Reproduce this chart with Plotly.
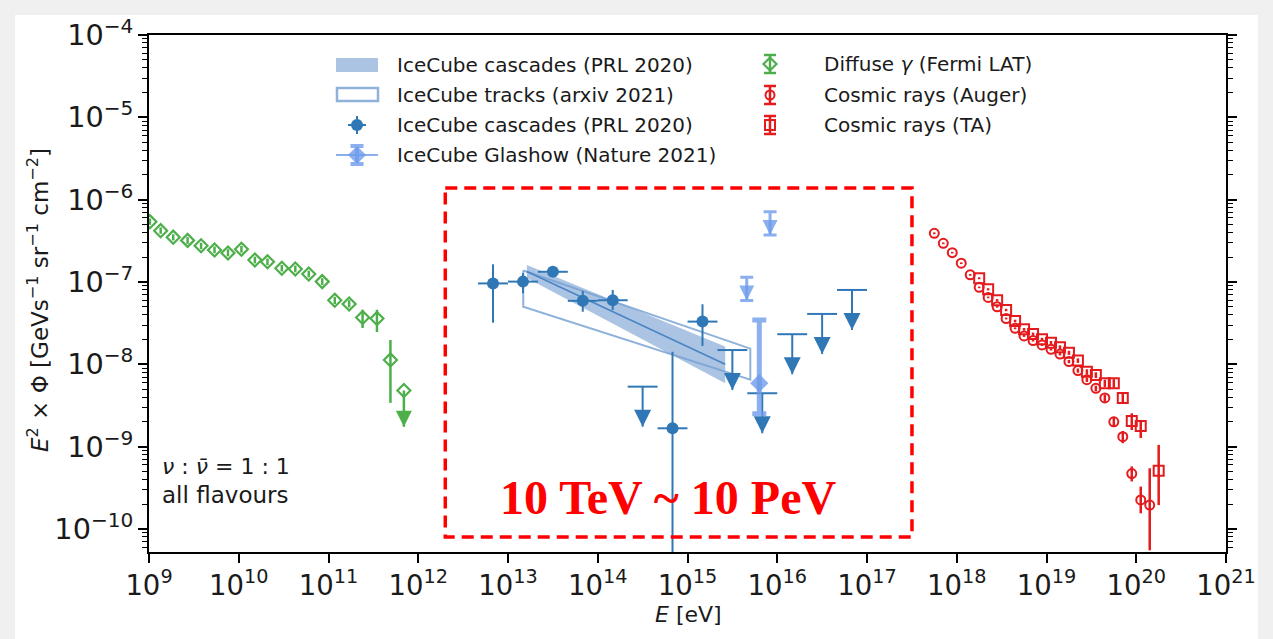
import numpy as np
import plotly.graph_objects as go

# ---------------- data: log10(E / eV) and E^2 * Phi [GeV s^-1 sr^-1 cm^-2] ----------------
# Fermi-LAT diffuse gamma-ray background
fermi_logE = [9.01, 9.13, 9.27, 9.43, 9.58, 9.73, 9.88, 10.03, 10.18, 10.32,
              10.48, 10.63, 10.78, 10.93, 11.07, 11.23, 11.38, 11.54, 11.69]
fermi_flux = [5.4e-7, 4.2e-7, 3.5e-7, 3.2e-7, 2.75e-7, 2.45e-7, 2.25e-7, 2.5e-7, 1.85e-7, 1.76e-7,
              1.47e-7, 1.44e-7, 1.25e-7, 1.01e-7, 6.0e-8, 5.4e-8, 3.7e-8, 3.6e-8, 1.13e-8]
fermi_hi = [5.9e-7, 4.6e-7, 3.8e-7, 3.5e-7, 3.0e-7, 2.7e-7, 2.5e-7, 2.75e-7, 2.03e-7, 1.93e-7,
            1.61e-7, 1.58e-7, 1.37e-7, 1.11e-7, 6.6e-8, 6.0e-8, 4.6e-8, 4.6e-8, 1.97e-8]
fermi_lo = [4.95e-7, 3.85e-7, 3.2e-7, 2.9e-7, 2.5e-7, 2.23e-7, 2.05e-7, 2.27e-7, 1.68e-7, 1.6e-7,
            1.34e-7, 1.31e-7, 1.14e-7, 0.92e-7, 5.4e-8, 4.9e-8, 2.76e-8, 2.47e-8, 3.4e-9]
fermi_ul_logE = [11.84]
fermi_ul_flux = [4.8e-9]

# IceCube cascades (PRL 2020): measured bins and upper limits, 1/3-decade bins
casc_logE = [12.833, 13.167, 13.5, 13.833, 14.167, 14.833, 15.167]
casc_flux = [9.6e-8, 1.01e-7, 1.33e-7, 5.9e-8, 6.0e-8, 1.67e-9, 3.3e-8]
casc_hi = [1.64e-7, 1.28e-7, 1.53e-7, 7.8e-8, 8.0e-8, 1.42e-8, 5.36e-8]
casc_lo = [3.2e-8, 7.3e-8, 1.16e-7, 4.35e-8, 4.57e-8, 1e-12, 1.67e-8]
casc_ul_logE = [14.5, 15.5, 15.833, 16.167, 16.5, 16.833]
casc_ul_flux = [5.35e-9, 1.49e-8, 4.45e-9, 2.32e-8, 4.09e-8, 8.0e-8]
casc_bin_halfwidth = 1 / 6

# IceCube power-law fits
casc_band_logE = [13.21, 15.42]
casc_band_hi = [1.61e-7, 1.64e-8]
casc_band_lo = [1.12e-7, 5.9e-9]
casc_fit = [1.34e-7, 1.0e-8]
tracks_band_logE = [13.17, 15.70]
tracks_band_hi = [1.38e-7, 1.55e-8]
tracks_band_lo = [5.0e-8, 6.5e-9]

# IceCube Glashow event (Nature 2021)
glashow_logE = [15.80]
glashow_flux = [5.9e-9]
glashow_hi = [3.45e-8]
glashow_lo = [2.5e-9]
glashow_ul_logE = [15.66, 15.92]
glashow_ul_flux = [1.14e-7, 7.15e-7]

# Pierre Auger Observatory cosmic-ray spectrum
auger_logE = [17.75, 17.85, 17.95, 18.05, 18.15, 18.25, 18.35, 18.45, 18.55, 18.65,
              18.75, 18.85, 18.95, 19.05, 19.15, 19.25, 19.35, 19.45, 19.55, 19.65,
              19.75, 19.85, 19.95, 20.05, 20.15]
auger_flux = [3.9e-7, 2.95e-7, 2.27e-7, 1.69e-7, 1.22e-7, 8.6e-8, 6.5e-8, 5.0e-8, 3.6e-8, 2.74e-8,
              2.21e-8, 1.94e-8, 1.72e-8, 1.52e-8, 1.33e-8, 1.08e-8, 8.4e-9, 6.5e-9, 5.1e-9, 3.9e-9,
              2.0e-9, 1.32e-9, 4.7e-10, 2.25e-10, 1.95e-10]
auger_hi = [4.0e-7, 3.02e-7, 2.32e-7, 1.73e-7, 1.25e-7, 8.8e-8, 6.65e-8, 5.12e-8, 3.69e-8, 2.81e-8,
            2.27e-8, 1.99e-8, 1.77e-8, 1.57e-8, 1.38e-8, 1.13e-8, 8.9e-9, 6.9e-9, 5.5e-9, 4.3e-9,
            2.3e-9, 1.55e-9, 5.75e-10, 3.27e-10, 5.46e-10]
auger_lo = [3.8e-7, 2.88e-7, 2.22e-7, 1.65e-7, 1.19e-7, 8.4e-8, 6.35e-8, 4.88e-8, 3.51e-8, 2.67e-8,
            2.15e-8, 1.89e-8, 1.67e-8, 1.47e-8, 1.28e-8, 1.03e-8, 7.9e-9, 6.1e-9, 4.7e-9, 3.5e-9,
            1.75e-9, 1.1e-9, 3.78e-10, 1.55e-10, 5.5e-11]

# Telescope Array cosmic-ray spectrum
ta_logE = [18.25, 18.35, 18.45, 18.55, 18.65, 18.75, 18.85, 18.95, 19.05, 19.15,
           19.25, 19.35, 19.45, 19.55, 19.65, 19.75, 19.85, 19.95, 20.05, 20.25]
ta_flux = [1.11e-7, 8.15e-8, 6.0e-8, 4.57e-8, 3.36e-8, 2.66e-8, 2.33e-8, 2.01e-8, 1.83e-8, 1.61e-8,
           1.38e-8, 1.11e-8, 8.1e-9, 7.4e-9, 5.9e-9, 5.9e-9, 3.9e-9, 2.05e-9, 1.78e-9, 5.1e-10]
ta_hi = [1.14e-7, 8.4e-8, 6.2e-8, 4.73e-8, 3.48e-8, 2.76e-8, 2.43e-8, 2.1e-8, 1.92e-8, 1.7e-8,
         1.46e-8, 1.18e-8, 8.7e-9, 8.0e-9, 6.5e-9, 6.6e-9, 4.6e-9, 2.54e-9, 2.11e-9, 1.05e-9]
ta_lo = [1.08e-7, 7.9e-8, 5.8e-8, 4.41e-8, 3.24e-8, 2.56e-8, 2.23e-8, 1.92e-8, 1.74e-8, 1.52e-8,
         1.3e-8, 1.04e-8, 7.5e-9, 6.8e-9, 5.3e-9, 5.2e-9, 3.3e-9, 1.59e-9, 1.27e-9, 1.95e-10]

# highlighted energy window (eV) and flux span of the dashed frame
window_E = [2.0e12, 3.17e17]
window_flux = [8.0e-11, 1.39e-6]

# ---------------- style ----------------
W, H = 1273, 639
L, R, T, B = 149, 47, 35, 87
GREEN = "#4daf4a"
RED = "#e41a1c"
BLUE = "#2f78b5"
BAND = "rgba(120,160,210,0.62)"
TRACK = "#8fb2da"
GLASHOW = "rgba(110,155,235,0.8)"
FONT = "DejaVu Sans"
TXT = "#1a1a1a"


def E(logs):
    return 10 ** np.asarray(logs, dtype=float)


def errs(vals, hi, lo):
    v = np.asarray(vals)
    return np.asarray(hi) - v, v - np.asarray(lo)


def px(x):
    return (x - L) / (W - L - R)


def py(y):
    return (H - B - y) / (H - T - B)


fig = go.Figure()

# power-law fit bands
x0, x1 = E(tracks_band_logE)
fig.add_trace(go.Scatter(
    x=[x0, x1, x1, x0, x0],
    y=[tracks_band_hi[0], tracks_band_hi[1], tracks_band_lo[1], tracks_band_lo[0], tracks_band_hi[0]],
    mode="lines", line=dict(color=TRACK, width=2), showlegend=False, hoverinfo="skip"))
x0, x1 = E(casc_band_logE)
fig.add_trace(go.Scatter(
    x=[x0, x1, x1, x0, x0],
    y=[casc_band_hi[0], casc_band_hi[1], casc_band_lo[1], casc_band_lo[0], casc_band_hi[0]],
    mode="lines", fill="toself", fillcolor=BAND, line=dict(width=0),
    showlegend=False, hoverinfo="skip"))
fig.add_trace(go.Scatter(x=[x0, x1], y=casc_fit, mode="lines",
                         line=dict(color="#4a84c4", width=1.5), showlegend=False, hoverinfo="skip"))


def upper_limits(logE, flux, color, arrow_dec, head, lw, cap=0.0, xhalf=None):
    x = E(logE)
    y = np.asarray(flux)
    tip = y * 10 ** (-arrow_dec)
    err_x = None
    if xhalf is not None:
        err_x = dict(type="data", symmetric=False, array=x * (10 ** xhalf - 1),
                     arrayminus=x * (1 - 10 ** (-xhalf)), color=color, thickness=lw, width=0)
    fig.add_trace(go.Scatter(
        x=x, y=y, mode="markers", marker=dict(size=1, color="rgba(0,0,0,0)"),
        error_y=dict(type="data", symmetric=False, array=np.zeros_like(y), arrayminus=y - tip,
                     color=color, thickness=lw, width=cap),
        error_x=err_x, showlegend=False, hoverinfo="skip"))
    fig.add_trace(go.Scatter(
        x=x, y=tip, mode="markers",
        marker=dict(symbol="arrow-down", size=head, color=color, line=dict(width=0)),
        showlegend=False, hoverinfo="skip"))


# Fermi LAT
up, dn = errs(fermi_flux, fermi_hi, fermi_lo)
fig.add_trace(go.Scatter(
    x=E(fermi_logE), y=fermi_flux, mode="markers",
    marker=dict(symbol="diamond-open", size=10, color=GREEN, line=dict(width=2.2, color=GREEN)),
    error_y=dict(type="data", symmetric=False, array=up, arrayminus=dn, color=GREEN, thickness=2.5, width=0),
    showlegend=False))
upper_limits(fermi_ul_logE, fermi_ul_flux, GREEN, 0.44, 16, 2.5)
fig.add_trace(go.Scatter(
    x=E(fermi_ul_logE), y=fermi_ul_flux, mode="markers",
    marker=dict(symbol="diamond-open", size=10, color=GREEN, line=dict(width=2.2, color=GREEN)),
    showlegend=False))

# IceCube cascades
up, dn = errs(casc_flux, casc_hi, casc_lo)
cx = E(casc_logE)
fig.add_trace(go.Scatter(
    x=cx, y=casc_flux, mode="markers",
    marker=dict(symbol="circle", size=12, color=BLUE),
    error_y=dict(type="data", symmetric=False, array=up, arrayminus=dn, color=BLUE, thickness=2, width=0),
    error_x=dict(type="data", symmetric=False, array=cx * (10 ** casc_bin_halfwidth - 1),
                 arrayminus=cx * (1 - 10 ** (-casc_bin_halfwidth)), color=BLUE, thickness=2, width=0),
    showlegend=False))
upper_limits(casc_ul_logE, casc_ul_flux, BLUE, 0.486, 17, 2, xhalf=casc_bin_halfwidth)

# Glashow
upper_limits(glashow_ul_logE, glashow_ul_flux, GLASHOW, 0.283, 15, 3, cap=6.5)
up, dn = errs(glashow_flux, glashow_hi, glashow_lo)
fig.add_trace(go.Scatter(
    x=E(glashow_logE), y=glashow_flux, mode="markers",
    marker=dict(symbol="diamond", size=14, color=GLASHOW),
    error_y=dict(type="data", symmetric=False, array=up, arrayminus=dn, color=GLASHOW, thickness=5, width=7),
    showlegend=False))

# cosmic rays
up, dn = errs(auger_flux, auger_hi, auger_lo)
fig.add_trace(go.Scatter(
    x=E(auger_logE), y=auger_flux, mode="markers",
    marker=dict(symbol="circle-open", size=9, color=RED, line=dict(width=2, color=RED)),
    error_y=dict(type="data", symmetric=False, array=up, arrayminus=dn, color=RED, thickness=2.5, width=0),
    showlegend=False))
up, dn = errs(ta_flux, ta_hi, ta_lo)
fig.add_trace(go.Scatter(
    x=E(ta_logE), y=ta_flux, mode="markers",
    marker=dict(symbol="square-open", size=10, color=RED, line=dict(width=2, color=RED)),
    error_y=dict(type="data", symmetric=False, array=up, arrayminus=dn, color=RED, thickness=2.5, width=0),
    showlegend=False))

# dashed frame around the IceCube energy window
fig.add_trace(go.Scatter(
    x=[window_E[0], window_E[1], window_E[1], window_E[0], window_E[0]],
    y=[window_flux[1], window_flux[1], window_flux[0], window_flux[0], window_flux[1]],
    mode="lines", line=dict(color="#ff0000", width=3.5, dash="12px,7px"),
    showlegend=False, hoverinfo="skip"))


# ---------------- legend glyphs (overlay axes in pixel units) ----------------
def glyph(x, y, symbol, size, color, ey=0, cap=0, ex=0, lw=2, ethick=2, line_len=0):
    if line_len:
        fig.add_trace(go.Scatter(x=[x - line_len, x + line_len], y=[y, y], mode="lines",
                                 line=dict(color=color, width=2), xaxis="x2", yaxis="y2",
                                 showlegend=False, hoverinfo="skip"))
    fig.add_trace(go.Scatter(
        x=[x], y=[y], mode="markers", xaxis="x2", yaxis="y2",
        marker=dict(symbol=symbol, size=size, color=color, line=dict(width=lw, color=color)),
        error_y=dict(type="constant", value=ey, color=color, thickness=ethick, width=cap, visible=ey > 0),
        error_x=dict(type="constant", value=ex, color=color, thickness=ethick, width=0, visible=ex > 0),
        showlegend=False, hoverinfo="skip"))


glyph(357, 125, "circle", 12, BLUE, ey=9, ex=9, lw=0)
glyph(357, 155, "diamond", 14, GLASHOW, ey=9, cap=6.5, lw=0, ethick=4, line_len=21)
glyph(770, 64, "diamond-open", 10, GREEN, ey=9, cap=6, lw=2.2, ethick=2.5)
glyph(770, 95, "circle-open", 9, RED, ey=9, cap=6, lw=2, ethick=2.5)
glyph(770, 125, "square-open", 10, RED, ey=9, cap=6, lw=2, ethick=2.5)

shapes = [
    dict(type="rect", xref="paper", yref="paper", x0=px(15), x1=px(1258), y0=py(639), y1=py(15),
         fillcolor="white", line=dict(width=0), layer="below"),
    dict(type="rect", xref="x2", yref="y2", x0=336, x1=378, y0=58, y1=72,
         fillcolor=BAND, line=dict(width=0)),
    dict(type="rect", xref="x2", yref="y2", x0=337, x1=378, y0=88, y1=101,
         fillcolor="rgba(0,0,0,0)", line=dict(color=TRACK, width=2.5)),
]

legend_texts = [
    (395, 65, "IceCube cascades (PRL 2020)"),
    (395, 95, "IceCube tracks (arxiv 2021)"),
    (395, 125, "IceCube cascades (PRL 2020)"),
    (395, 155, "IceCube Glashow (Nature 2021)"),
    (822, 64, "Diffuse <i>γ</i> (Fermi LAT)"),
    (822, 95, "Cosmic rays (Auger)"),
    (822, 125, "Cosmic rays (TA)"),
]
annotations = [
    dict(x=px(x), y=py(y), xref="paper", yref="paper", text=t, showarrow=False,
         xanchor="left", yanchor="middle", font=dict(family=FONT, size=20, color=TXT))
    for x, y, t in legend_texts
]
annotations += [
    dict(x=px(160), y=py(466), xref="paper", yref="paper", text="<i>ν</i> : <i>ν̄</i> = 1 : 1",
         showarrow=False, xanchor="left", yanchor="middle", font=dict(family=FONT, size=22, color=TXT)),
    dict(x=px(160), y=py(495), xref="paper", yref="paper", text="all flavours",
         showarrow=False, xanchor="left", yanchor="middle", font=dict(family=FONT, size=23, color=TXT)),
    dict(x=px(668), y=py(497), xref="paper", yref="paper", text="<b>10 TeV ~ 10 PeV</b>",
         showarrow=False, xanchor="center", yanchor="middle",
         font=dict(family="Liberation Serif", size=48, color="#ff0000")),
    dict(x=px(688), y=py(614), xref="paper", yref="paper", text="<i>E</i> [eV]",
         showarrow=False, xanchor="center", yanchor="middle", font=dict(family=FONT, size=22, color=TXT)),
    dict(x=px(38), y=py(300), xref="paper", yref="paper", textangle=-90,
         text="<i>E</i><sup>2</sup> × Φ [GeVs<sup>−1</sup> sr<sup>−1</sup> cm<sup>−2</sup>]",
         showarrow=False, xanchor="center", yanchor="middle", font=dict(family=FONT, size=23, color=TXT)),
]

fig.update_layout(
    width=W, height=H, margin=dict(l=L, r=R, t=T, b=B, autoexpand=False),
    paper_bgcolor="#f0f0f0", plot_bgcolor="white",
    font=dict(family=FONT, color=TXT),
    showlegend=False, shapes=shapes, annotations=annotations,
    xaxis=dict(type="log", range=[9, 21], dtick=1, exponentformat="power",
               showline=True, linecolor="black", linewidth=2, mirror=True,
               ticks="outside", ticklen=9, tickwidth=1.5, tickcolor="black",
               showgrid=False, zeroline=False, tickfont=dict(size=22, family=FONT, color=TXT)),
    yaxis=dict(type="log", range=[-10.28, -4], dtick=1, exponentformat="power",
               showline=True, linecolor="black", linewidth=2, mirror="allticks",
               ticks="outside", ticklen=9, tickwidth=1.5, tickcolor="black",
               minor=dict(ticks="outside", ticklen=5, tickwidth=1, tickcolor="black", showgrid=False),
               showgrid=False, zeroline=False, tickfont=dict(size=23, family=FONT, color=TXT)),
    xaxis2=dict(overlaying="x", range=[L, W - R], visible=False, fixedrange=True),
    yaxis2=dict(overlaying="y", range=[H - B, T], visible=False, fixedrange=True),
)

fig.write_html("out.html")
